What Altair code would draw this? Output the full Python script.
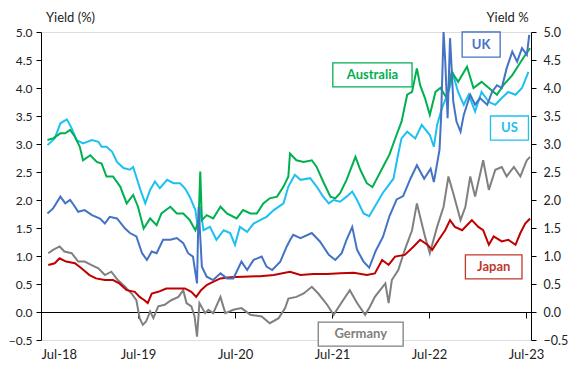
import altair as alt
import pandas as pd
import numpy as np

# months since Jul-2018 and yields (%)
us_m = [0.8,1.7,2.4,3.2,3.8,4.4,5.2,6.3,7.1,7.5,8.1,8.8,9.4,10.2,11.0,11.4,12.3,12.9,13.5,14.1,14.7,15.6,16.4,17.2,17.8,18.4,19.1,19.5,19.7,20.1,20.9,21.7,22.6,23.4,24.0,24.6,25.5,26.3,27.1,27.9,28.8,30.0,30.6,31.4,32.1,33.3,34.1,34.9,35.6,36.2,37.0,37.8,38.5,39.1,39.9,40.6,42.3,43.6,44.2,44.6,45.3,46.3,47.1,48.1,48.6,49.0,49.6,50.4,51.0,51.6,52.3,52.9,53.7,54.5,55.4,56.2,57.0,57.8,58.7,59.5,60.3]
us_v = [2.98,3.10,3.37,3.44,3.28,3.07,3.01,3.07,3.04,2.95,2.95,2.86,2.68,2.57,2.54,2.59,2.18,1.94,2.18,2.33,2.21,2.36,2.30,2.30,2.21,2.06,1.82,1.41,1.88,1.46,1.52,1.29,1.46,1.41,1.20,1.52,1.43,1.58,1.64,1.70,1.82,1.94,2.24,2.45,2.36,2.39,2.24,2.06,1.94,2.00,1.97,2.06,2.15,2.00,1.76,1.71,2.13,2.38,2.83,3.10,3.22,3.10,3.34,3.16,2.95,3.34,3.64,3.93,4.23,3.93,3.70,3.88,3.58,3.93,3.75,3.70,3.82,3.93,3.88,4.00,4.29]

au_m = [0.8,1.5,2.4,3.0,3.6,4.2,4.8,5.2,6.1,6.9,7.5,8.1,8.9,9.8,10.6,11.4,12.0,12.7,13.5,14.3,14.9,16.0,16.8,17.6,18.4,19.1,19.5,19.7,19.9,20.5,21.3,22.2,23.0,24.2,25.0,25.9,26.7,27.5,28.3,29.2,30.0,30.6,30.8,31.6,32.5,33.5,34.1,34.9,35.8,36.4,37.0,37.8,38.9,39.5,40.3,41.0,42.3,43.1,44.0,44.6,45.3,45.9,46.5,46.9,47.5,48.1,48.8,49.4,50.2,50.8,51.6,52.7,53.5,54.5,55.4,56.4,57.2,58.3,59.1,59.9,60.5]
au_v = [3.07,3.10,3.19,3.19,3.25,3.13,2.95,2.71,2.80,2.68,2.65,2.42,2.42,2.24,1.94,2.09,1.88,1.49,1.67,1.55,1.76,1.88,1.76,1.76,1.64,1.46,1.64,2.51,1.64,1.73,1.67,1.88,1.76,1.67,1.82,1.76,1.76,1.94,2.03,2.06,2.24,2.42,2.83,2.71,2.68,2.71,2.59,2.33,2.06,2.03,2.12,2.36,2.77,2.54,2.30,2.23,2.59,2.81,3.17,3.40,3.88,3.93,4.35,4.05,3.82,3.52,3.93,4.00,3.82,4.29,4.11,4.38,4.00,4.11,4.00,3.88,4.05,4.23,4.41,4.59,4.71]

uk_m = [0.8,1.5,2.4,3.0,3.6,4.2,4.6,5.4,6.3,7.3,7.9,8.5,9.4,10.4,11.0,11.8,12.5,13.1,13.7,14.3,15.1,16.0,16.8,17.6,18.2,18.8,19.3,19.5,19.9,20.5,21.3,22.2,23.0,23.8,24.8,25.5,26.3,27.3,27.9,28.6,29.6,30.4,30.8,31.2,32.1,33.5,34.5,35.6,36.4,37.2,37.8,38.5,39.1,39.9,40.6,41.4,42.3,43.1,44.0,44.8,45.7,46.5,47.4,48.2,48.6,49.3,49.5,49.8,50.0,50.3,50.6,50.8,51.0,51.4,51.9,52.3,52.7,53.1,53.7,54.3,55.2,55.8,56.4,57.0,57.6,58.3,58.9,59.5,60.1,60.4]
uk_v = [1.76,1.85,2.06,1.94,2.00,1.88,1.79,1.82,1.73,1.67,1.58,1.70,1.67,1.49,1.41,1.35,1.05,0.93,1.08,1.05,1.29,1.29,1.32,1.23,1.05,0.99,0.51,1.88,0.81,0.63,0.57,0.69,0.60,0.60,0.90,0.75,0.93,0.99,0.81,0.75,0.90,1.17,1.28,1.38,1.32,1.41,1.26,1.02,0.93,1.05,1.29,1.52,1.11,0.90,0.79,1.09,1.34,1.71,2.01,2.07,2.38,2.62,2.38,2.56,2.32,2.90,3.50,5.00,4.50,3.46,4.89,4.35,3.76,3.40,3.22,3.52,3.70,3.88,3.70,3.82,3.70,3.93,4.05,4.00,4.35,4.65,4.47,4.71,4.59,4.95]

de_m = [0.9,1.5,2.3,2.9,3.8,4.6,5.4,6.2,7.1,7.9,8.7,9.5,10.4,11.2,11.8,12.2,12.6,13.0,13.5,13.9,14.5,15.3,16.1,17.0,17.6,18.0,18.6,19.0,19.3,19.6,20.3,20.7,21.3,22.2,22.8,23.8,24.8,25.9,27.3,28.3,29.4,30.2,30.6,31.6,32.5,33.5,34.3,35.4,36.2,37.0,38.2,39.1,40.1,40.7,41.3,42.6,43.0,43.4,44.2,45.0,45.9,46.5,46.9,47.5,48.1,49.0,49.8,50.4,51.0,51.9,52.5,53.1,53.7,54.7,55.4,56.2,57.0,57.6,58.5,59.3,60.1,60.5]
de_v = [1.05,1.11,1.17,1.08,1.05,0.90,0.90,0.84,0.78,0.66,0.72,0.57,0.45,0.33,0.21,-0.11,-0.23,-0.17,0.01,-0.11,0.10,0.13,0.21,0.27,0.39,0.16,0.10,-0.08,-0.44,0.16,-0.02,0.04,-0.02,0.27,-0.02,0.04,0.07,-0.05,-0.08,-0.20,-0.11,0.07,0.24,0.27,0.33,0.45,0.33,0.13,-0.05,0.13,0.39,0.16,-0.05,0.10,0.27,0.51,0.16,0.57,0.75,1.11,1.46,1.94,1.70,1.35,1.05,1.52,1.88,2.42,2.12,1.64,1.88,2.42,2.06,2.71,2.18,2.54,2.59,2.42,2.59,2.42,2.71,2.77]

jp_m = [0.9,1.7,2.3,3.1,4.2,5.0,6.0,6.8,7.9,8.9,9.7,10.6,11.6,12.2,12.8,13.2,13.7,14.5,15.5,16.5,17.8,18.6,19.2,19.8,20.5,20.9,22.2,23.4,25.0,27.1,28.8,30.8,32.1,33.7,35.4,37.0,38.7,40.3,41.3,42.2,43.0,43.8,45.0,46.1,46.9,47.8,48.4,49.2,50.0,50.6,51.2,52.1,52.9,53.3,54.1,54.7,55.4,56.0,57.0,57.8,58.7,59.3,59.9,60.5]
jp_v = [0.84,0.87,0.96,0.90,0.87,0.78,0.66,0.60,0.57,0.57,0.51,0.39,0.36,0.27,0.21,0.16,0.33,0.36,0.42,0.42,0.42,0.36,0.27,0.39,0.48,0.51,0.60,0.62,0.63,0.64,0.66,0.72,0.66,0.68,0.68,0.69,0.70,0.66,0.69,0.93,0.84,0.99,1.02,1.17,1.29,1.20,1.11,1.29,1.46,1.64,1.52,1.46,1.58,1.64,1.52,1.46,1.20,1.35,1.26,1.29,1.20,1.41,1.58,1.67]

names = ["US", "Australia", "Germany", "Japan", "UK"]
colors = ["#1EC0F2", "#00B050", "#808080", "#C00000", "#4472C4"]
series = {"US": (us_m, us_v), "Australia": (au_m, au_v), "Germany": (de_m, de_v),
          "Japan": (jp_m, jp_v), "UK": (uk_m, uk_v)}

# label boxes (months since Jul-2018, yield)
lab_names = ["UK", "Australia", "US", "Japan", "Germany"]
lab_m0 = [52.1, 36.1, 55.6, 52.5, 34.3]
lab_m1 = [56.8, 45.9, 60.3, 59.5, 44.8]
lab_v0 = [4.55, 4.02, 3.07, 0.59, -0.61]
lab_v1 = [5.00, 4.45, 3.50, 1.02, -0.18]
lab_colors = ["#4472C4", "#00B050", "#1EC0F2", "#C0392B", "#808080"]

tick_vals = [-0.5, 0, 0.5, 1, 1.5, 2, 2.5, 3, 3.5, 4, 4.5, 5]

base = pd.Timestamp("2018-07-01")
def to_date(m):
    return base + pd.to_timedelta(np.asarray(m) * 30.4375, unit="D")

rows = []
for k, n in enumerate(names):
    m, v = series[n]
    d = to_date(m)
    rows.append(pd.DataFrame({"date": d, "value": v, "series": n, "ord": k}))
df = pd.concat(rows, ignore_index=True)

lab = pd.DataFrame({
    "name": lab_names,
    "d0": to_date(lab_m0), "d1": to_date(lab_m1),
    "dc": to_date((np.array(lab_m0) + np.array(lab_m1)) / 2),
    "v0": lab_v0, "v1": lab_v1,
    "vc": (np.array(lab_v0) + np.array(lab_v1)) / 2,
})

FONT = "Lato"
xscale = alt.Scale(domain=[alt.DateTime(year=2018, month=7, date=1),
                           alt.DateTime(year=2023, month=7, date=20)])
yscale = alt.Scale(domain=[-0.5, 5.0], nice=False, zero=False)

xaxis = alt.Axis(values=[alt.DateTime(year=y, month=7, date=1) for y in range(2018, 2024)],
                 format="%b-%y", title=None, grid=False, offset=-28, tickSize=6,
                 labelPadding=30, domainColor="black", tickColor="black",
                 labelFont=FONT, labelFontSize=13, labelColor="#222")

left_axis = alt.Axis(values=tick_vals, format=".1f",
                     grid=False, tickSize=5, labelPadding=4, domainColor="black",
                     tickColor="black", labelFont=FONT, labelFontSize=12, labelColor="#222",
                     title="Yield (%)", titleAngle=0, titleX=29, titleY=-15,
                     titleAlign="center", titleBaseline="middle", titleFont=FONT,
                     titleFontSize=13, titleFontWeight="normal", titleColor="#222")
right_axis = alt.Axis(orient="right", values=tick_vals,
                      format=".1f", grid=False, tickSize=5, labelPadding=7,
                      domainColor="black", tickColor="black", labelFont=FONT,
                      labelFontSize=12.5, labelColor="#222",
                      title="Yield %", titleAngle=0, titleX=-24, titleY=-15,
                      titleAlign="center", titleBaseline="middle", titleFont=FONT,
                      titleFontSize=13, titleFontWeight="normal", titleColor="#222")

X = alt.X("date:T", scale=xscale, axis=xaxis)

lines = alt.Chart(df).mark_line(strokeWidth=2).encode(
    x=X,
    y=alt.Y("value:Q", scale=yscale, axis=left_axis),
    color=alt.Color("series:N", scale=alt.Scale(domain=names, range=colors), legend=None),
    order=alt.Order("ord:Q"),
    detail="series:N",
)

right = alt.Chart(df).mark_line(opacity=0).encode(
    x=X,
    y=alt.Y("value:Q", scale=yscale, axis=right_axis),
    detail="series:N",
)

boxes = alt.Chart(lab).mark_rect(fill="white", strokeWidth=1.3).encode(
    x=alt.X("d0:T", scale=xscale, axis=xaxis), x2="d1:T",
    y=alt.Y("v0:Q", scale=yscale, axis=None), y2="v1:Q",
    stroke=alt.Stroke("name:N", scale=alt.Scale(domain=lab_names, range=lab_colors), legend=None),
)

texts = alt.Chart(lab).mark_text(font=FONT, fontSize=13, fontWeight="bold").encode(
    x=alt.X("dc:T", scale=xscale, axis=xaxis),
    y=alt.Y("vc:Q", scale=yscale, axis=None),
    text="name:N",
    color=alt.Color("name:N", scale=alt.Scale(domain=lab_names, range=lab_colors), legend=None),
)

chart = alt.layer(lines, right, boxes, texts).resolve_scale(
    y="independent", color="independent"
).properties(
    width=490, height=308,
    autosize=alt.AutoSizeParams(type="none"),
    padding={"left": 33, "top": 24, "right": 39, "bottom": 26},
).configure_view(stroke=None).configure(background="white")

chart.save("out.html", embed_options={"renderer": "svg", "actions": False})
